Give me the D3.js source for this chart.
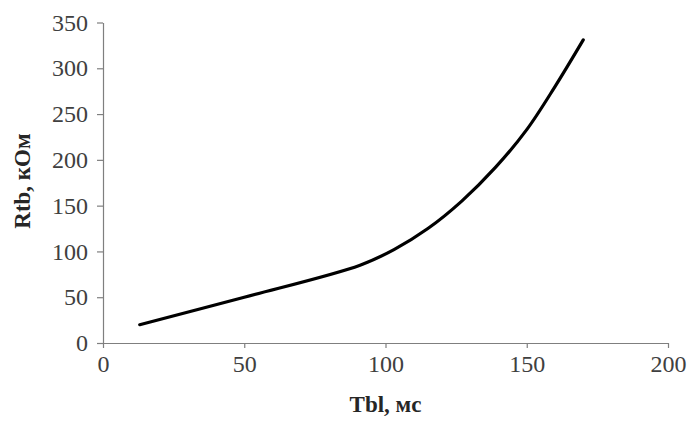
<!DOCTYPE html>
<html lang='ru'>
  <head>
    <meta charset='utf-8'>
    <title>Rtb vs Tbl</title>
    <script type='text/javascript' src='https://cdn.jsdelivr.net/npm/d3@7'></script>
    <style>
      body { margin: 0; background: #fff; }
      text { font-family: 'Liberation Serif', 'Times New Roman', serif; }
    </style>
  </head>
  <body>
    <script type='text/javascript'>

      // values
      var tbl = [13, 50, 91, 103, 115, 127, 139, 150, 160, 170];
      var rtb = [20, 50, 85, 102, 125, 155, 192, 233, 280, 331];
      var xTicks = [0, 50, 100, 150, 200];
      var yTicks = [0, 50, 100, 150, 200, 250, 300, 350];

      var w = 690;
      var h = 421;
      var padL = 103, padR = 668, padT = 22.5, padB = 343;

      var svg = d3.select('body')
                  .append('svg')
                  .attr('width', w)
                  .attr('height', h);

      var xScale = d3.scaleLinear().domain([0, 200]).range([padL, padR]);
      var yScale = d3.scaleLinear().domain([0, 350]).range([padB, padT]);

      var xAxis = svg.append('g')
                     .attr('transform', 'translate(0,' + padB + ')')
                     .call(d3.axisBottom(xScale).tickValues(xTicks).tickSize(5).tickPadding(7).tickSizeOuter(0));

      var yAxis = svg.append('g')
                     .attr('transform', 'translate(' + padL + ',0)')
                     .call(d3.axisLeft(yScale).tickValues(yTicks).tickSize(6).tickPadding(9).tickSizeOuter(0));

      [xAxis, yAxis].forEach(function(g){
        g.select('.domain').attr('stroke', '#7f7f7f').attr('stroke-width', 1.2);
        g.selectAll('.tick line').attr('stroke', '#7f7f7f').attr('stroke-width', 1.2);
        g.selectAll('.tick text')
         .attr('font-family', "'Liberation Serif', serif")
         .attr('font-size', '24px')
         .attr('fill', '#404040');
      });

      var points = tbl.map(function(d, i){ return [d, rtb[i]]; });

      var line = d3.line()
                   .x(function(d){ return xScale(d[0]); })
                   .y(function(d){ return yScale(d[1]); })
                   .curve(d3.curveCatmullRom.alpha(0.5));

      svg.append('path')
         .datum(points)
         .attr('d', line)
         .attr('fill', 'none')
         .attr('stroke', '#000')
         .attr('stroke-width', 3.2)
         .attr('stroke-linecap', 'round');

      svg.append('text')
         .text('Tbl, мс')
         .attr('x', (padL + padR) / 2)
         .attr('y', 412)
         .attr('text-anchor', 'middle')
         .attr('font-weight', 'bold')
         .attr('font-size', '23px')
         .attr('fill', '#262626');

      svg.append('text')
         .text('Rtb, кОм')
         .attr('transform', 'translate(30,' + 181 + ') rotate(-90)')
         .attr('text-anchor', 'middle')
         .attr('font-weight', 'bold')
         .attr('font-size', '23px')
         .attr('fill', '#262626');

    </script>
  </body>
</html>
